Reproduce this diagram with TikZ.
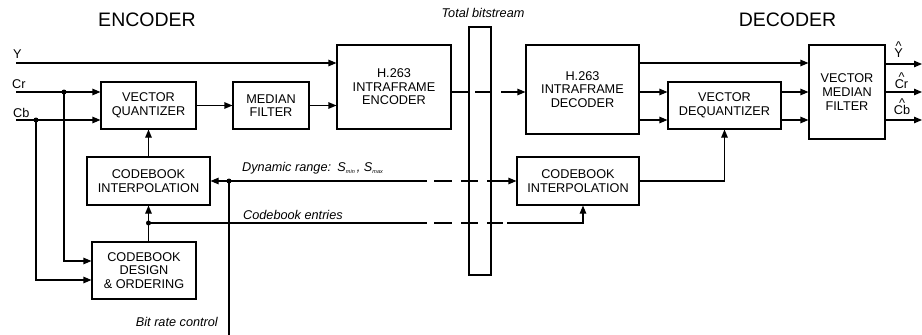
\documentclass[tikz,border=0pt]{standalone}
\usepackage{fontspec}
\setmainfont{Liberation Sans}
\usetikzlibrary{arrows.meta}
\begin{document}
\begin{tikzpicture}[x=1pt,y=-1pt,
  box/.style={draw, line width=1.1pt, align=center, inner sep=0pt, font=\fontsize{12.7}{13.6}\selectfont},
  conn/.style={line width=1.1pt},
  arr/.style={conn,-{Triangle[length=8pt,width=6.5pt]}},
  jdot/.style={circle, fill, inner sep=0pt, minimum size=5pt},
  lbl/.style={inner sep=0pt, font=\fontsize{12.7}{14}\selectfont},
  hatlbl/.style={inner sep=0pt, align=center, font=\fontsize{12.7}{14}\selectfont},
  ilbl/.style={inner sep=0pt, font=\fontsize{12.7}{14}\selectfont\itshape},
  ttl/.style={inner sep=0pt, font=\fontsize{19.5}{21}\selectfont}]
\useasboundingbox (0,0) rectangle (922,335);

% titles
\node[ttl, anchor=base] (tenc) at (147,26) {ENCODER};
\node[ttl, anchor=base] (tdec) at (787.5,26) {DECODER};
\node[ilbl, anchor=base] (ttb) at (483,17) {Total bitstream};

% boxes
\node[box, minimum width=95pt, minimum height=47pt] (vq) at (148.5,105.5) {VECTOR\\QUANTIZER};
\node[box, minimum width=76pt, minimum height=47pt] (mf) at (271,105.5) {MEDIAN\\FILTER};
\node[box, minimum width=114pt, minimum height=84pt] (enc) at (394,87) {H.263\\INTRAFRAME\\ENCODER};
\node[draw, line width=1.1pt, minimum width=22pt, minimum height=248pt, inner sep=0pt] (tb) at (480,151) {};
\node[box, minimum width=113pt, minimum height=89pt] (dec) at (582.5,89.5) {H.263\\INTRAFRAME\\DECODER};
\node[box, minimum width=113pt, minimum height=47pt] (vdq) at (724.5,105.5) {VECTOR\\DEQUANTIZER};
\node[box, minimum width=76pt, minimum height=94pt] (vmf) at (847,92) {VECTOR\\MEDIAN\\FILTER};
\node[box, minimum width=123pt, minimum height=48pt] (cbi) at (148.5,181) {CODEBOOK\\INTERPOLATION};
\node[box, minimum width=104pt, minimum height=57pt] (cbd) at (144,270.5) {CODEBOOK\\DESIGN\\\& ORDERING};
\node[box, minimum width=122pt, minimum height=48pt] (cbi2) at (578,181) {CODEBOOK\\INTERPOLATION};

% input labels
\node[lbl, anchor=base west] (ly) at (13,58) {Y};
\node[lbl, anchor=base west] (lcr) at (12,88) {Cr};
\node[lbl, anchor=base west] (lcb) at (13,117) {Cb};

% input coordinates
\coordinate (yin) at (16,63);
\coordinate (crin) at (16,92);
\coordinate (cbin) at (16,120);
\coordinate (crj) at (64,92);
\coordinate (cbj) at (36,120);
\coordinate (crd) at (64,261);
\coordinate (cbdd) at (36,280);

\draw[arr] (yin) -- (enc.west |- yin);
\draw[arr] (crin) -- (vq.west |- crin);
\draw[arr] (cbin) -- (vq.west |- cbin);
\node[jdot] (dcr) at (crj) {};
\node[jdot] (dcb) at (cbj) {};
\draw[arr] (crj) -- (crd) -- (cbd.west |- crd);
\draw[arr] (cbj) -- (cbdd) -- (cbd.west |- cbdd);

% encoder chain
\draw[arr] (vq) -- (mf);
\draw[arr] (mf.east) -- (enc.west |- mf.east);
\draw[arr] (cbi.north) -- (vq.south);
\draw[arr] (cbd.north -| cbi) -- (cbi.south);

% encoder -> decoder (dashed)
\coordinate (e1) at (451,92);
\coordinate (e2) at (468,92);
\coordinate (e3) at (475,92);
\coordinate (e4) at (492,92);
\coordinate (e5) at (501,92);
\draw[conn] (e1) -- (e2);
\draw[conn] (e3) -- (e4);
\draw[arr] (e5) -- (dec.west |- e5);

% dynamic range
\coordinate (drj) at (229,181);
\coordinate (brc) at (229,335);
\node[jdot] (ddr) at (drj) {};
\draw[arr] (drj) -- (cbi.east);
\draw[conn] (brc) -- (drj);
\coordinate (d1) at (427,181);
\coordinate (d2) at (434,181);
\coordinate (d3) at (452,181);
\coordinate (d4) at (461,181);
\coordinate (d5) at (478,181);
\coordinate (d6) at (487,181);
\draw[conn] (drj) -- (d1);
\draw[conn] (d2) -- (d3);
\draw[conn] (d4) -- (d5);
\draw[arr] (d6) -- (cbi2.west);
\node[ilbl, anchor=base west] (ldr) at (242,171) {Dynamic range:\enspace S\raisebox{-2pt}{\fontsize{5.5}{6}\selectfont min}\,, S\raisebox{-2pt}{\fontsize{5.5}{6}\selectfont max}};
\node[ilbl, anchor=base east] (lbr) at (218,326) {Bit rate control};

% codebook entries
\coordinate (cej) at (148.5,223);
\node[jdot] (dce) at (cej) {};
\coordinate (c1) at (427,223);
\coordinate (c2) at (434,223);
\coordinate (c3) at (452,223);
\coordinate (c4) at (461,223);
\coordinate (c5) at (478,223);
\coordinate (c6) at (487,223);
\coordinate (c7) at (503,223);
\coordinate (c8) at (507,223);
\coordinate (ce) at (583,223);
\draw[conn] (cej) -- (c1);
\draw[conn] (c2) -- (c3);
\draw[conn] (c4) -- (c5);
\draw[conn] (c6) -- (c7);
\draw[arr] (c8) -- (ce) -- (ce |- cbi2.south);
\node[ilbl, anchor=base west] (lce) at (243,219) {Codebook entries};

% decoder side
\draw[arr] (cbi2.east) -| (vdq.south);
\coordinate (o1) at (639,63);
\coordinate (o2) at (639,92);
\coordinate (o3) at (639,120);
\draw[arr] (o1) -- (vmf.west |- o1);
\draw[arr] (o2) -- (vdq.west |- o2);
\draw[arr] (o3) -- (vdq.west |- o3);
\draw[arr] (vdq.east |- o2) -- (vmf.west |- o2);
\draw[arr] (vdq.east |- o3) -- (vmf.west |- o3);

\coordinate (r1) at (922,64);
\coordinate (r2) at (922,92);
\coordinate (r3) at (922,120);
\draw[arr] (vmf.east |- r1) -- (r1);
\draw[arr] (vmf.east |- r2) -- (r2);
\draw[arr] (vmf.east |- r3) -- (r3);

\node[hatlbl, anchor=base] (oy) at (898.5,57) {\textasciicircum\\[-7.6pt]Y};
\node[hatlbl, anchor=base] (ocr) at (901.5,88) {\textasciicircum\\[-7.6pt]Cr};
\node[hatlbl, anchor=base] (ocb) at (902,114) {\textasciicircum\\[-7.6pt]Cb};
\end{tikzpicture}
\end{document}
